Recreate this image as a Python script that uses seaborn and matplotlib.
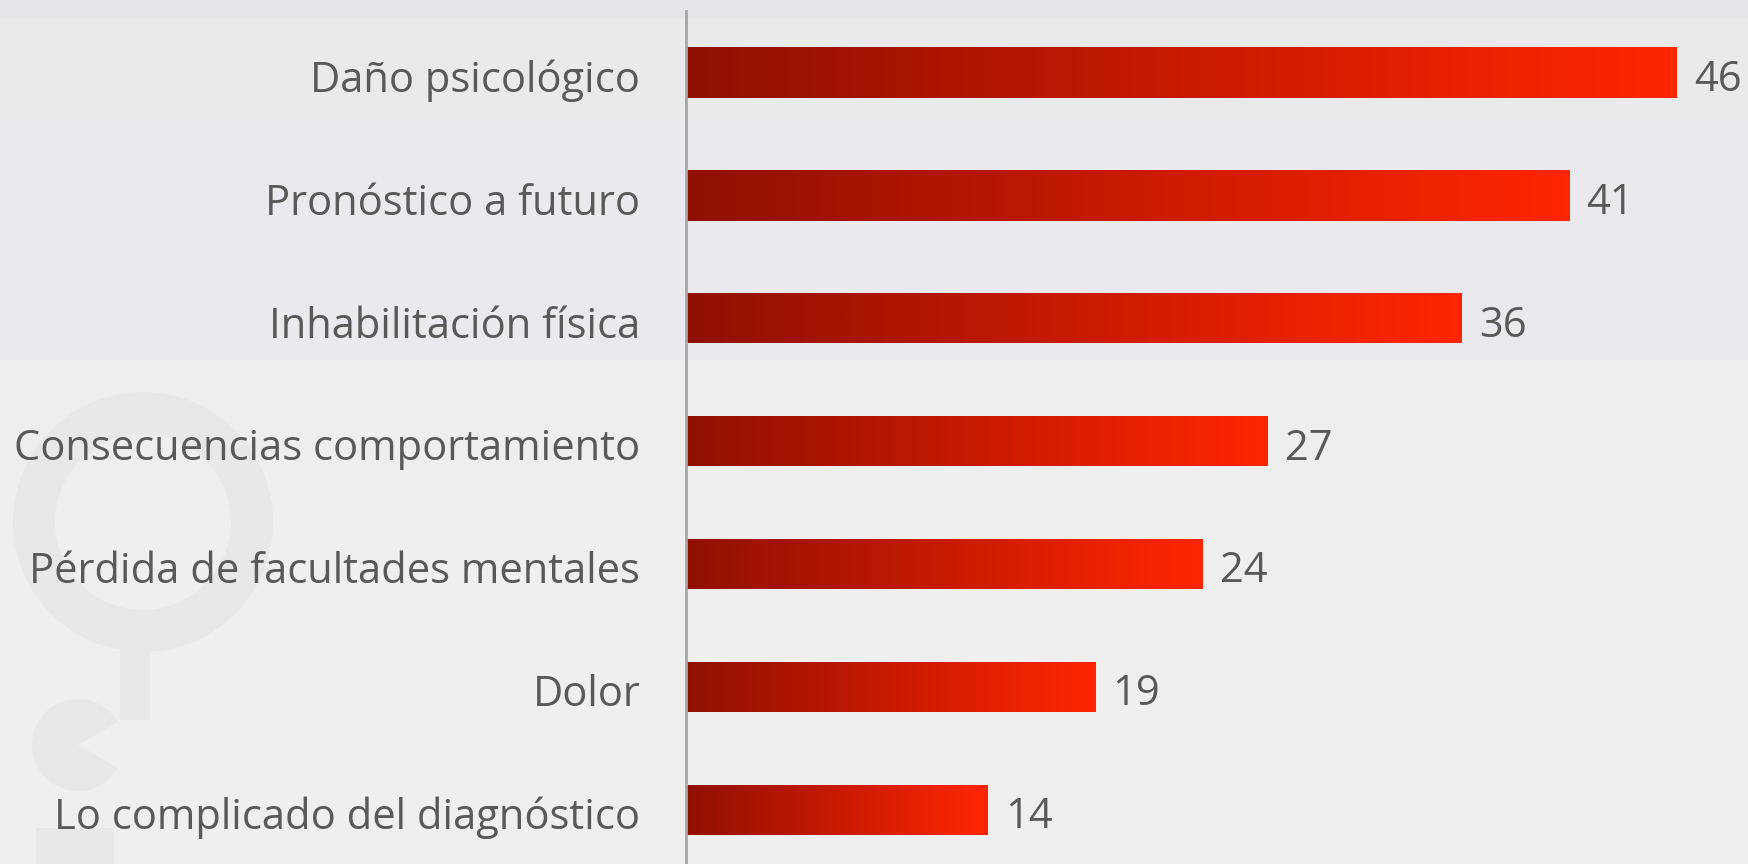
import numpy as np
import pandas as pd
import matplotlib.pyplot as plt
import seaborn as sns
from matplotlib.colors import LinearSegmentedColormap
from matplotlib.patches import Wedge, Rectangle
from matplotlib.transforms import ScaledTranslation

# chart data
categories = ['Daño psicológico', 'Pronóstico a futuro', 'Inhabilitación física',
              'Consecuencias comportamiento', 'Pérdida de facultades mentales',
              'Dolor', 'Lo complicado del diagnóstico']
values = [46, 41, 36, 27, 24, 19, 14]

df = pd.DataFrame({'categoria': categories, 'valor': values})

sns.set_theme(style="white")
plt.rcParams['font.family'] = ['Open Sans', 'DejaVu Sans']

fig = plt.figure(figsize=(17.48, 8.64), dpi=100)
fig.patch.set_facecolor('#EDEDEF')

# soft background bands like the slide behind the chart
bg = fig.add_axes([0, 0, 1, 1], zorder=-5)
bg.set_xlim(0, 1748)
bg.set_ylim(864, 0)
bg.axis('off')
bands = [(0, 18, '#E6E6EA'), (18, 118, '#E8EAEC'), (118, 360, '#EAEAEE'),
         (360, 470, '#EDEEED'), (470, 864, '#EFEFEF')]
for y0, y1, c in bands:
    bg.add_patch(Rectangle((0, y0), 1748, y1 - y0, color=c, lw=0))
# faint logo watermark
wm = '#E8E8E8'
bg.add_patch(Wedge((143, 522), 130, 0, 360, width=42, color=wm, lw=0))
bg.add_patch(Rectangle((120, 620), 30, 100, color=wm, lw=0))
bg.add_patch(Wedge((78, 745), 46, 30, 330, color=wm, lw=0))
bg.add_patch(Rectangle((36, 828), 78, 40, color=wm, lw=0))

ax = fig.add_axes([686 / 1748, 0, (1748 - 686) / 1748, 1 - 11 / 864])
ax.set_facecolor('none')

sns.barplot(data=df, x='valor', y='categoria', orient='h', ax=ax,
            width=0.41, color='#C81A00', errorbar=None)

cmap = LinearSegmentedColormap.from_list('rojo', ['#8F1000', '#C81A00', '#FF2600'])
grad = np.linspace(0, 1, 256).reshape(1, -1)
for p in ax.patches:
    x0, y0 = p.get_x(), p.get_y()
    w, h = p.get_width(), p.get_height()
    im = ax.imshow(grad, cmap=cmap, aspect='auto', extent=[x0, x0 + w, y0 + h, y0],
                   zorder=2, interpolation='bicubic')
    im.set_clip_path(p)
    p.set_facecolor('none')
    p.set_edgecolor('none')

for i, v in enumerate(values):
    ax.text(v + 0.8, i + 0.06, str(v), va='center', ha='left', fontsize=30, color='#595959')

ax.set_xlim(0, 49.3)
ax.set_ylim(6.44, -0.5)
ax.set_xlabel('')
ax.set_ylabel('')
ax.set_xticks([])
ax.tick_params(axis='y', length=0, pad=33, labelsize=30, labelcolor='#595959')
shift = ScaledTranslation(0, -0.033, fig.dpi_scale_trans)
for lbl in ax.get_yticklabels():
    lbl.set_transform(lbl.get_transform() + shift)
for s in ['top', 'right', 'bottom']:
    ax.spines[s].set_visible(False)
ax.spines['left'].set_color('#A6A6A6')
ax.spines['left'].set_linewidth(2)

plt.savefig('out.png', dpi=100, facecolor=fig.get_facecolor())
